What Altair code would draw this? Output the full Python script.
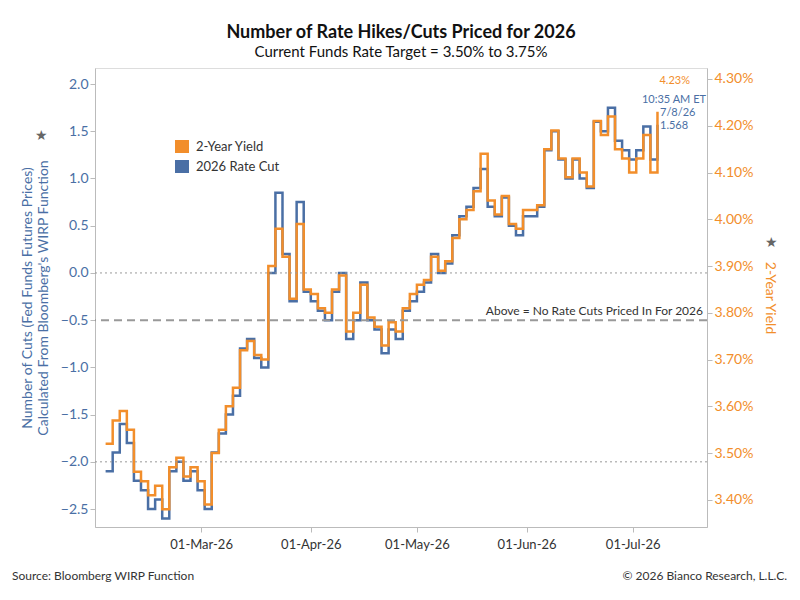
import altair as alt
import pandas as pd

dates = list(pd.date_range("2026-02-02", "2026-07-08", freq="2D").strftime("%Y-%m-%d"))
cuts = [-2.1,-1.9,-1.6,-1.8,-2.2,-2.3,-2.5,-2.4,-2.6,-2.1,-2.0,-2.2,-2.1,-2.3,
        -2.5,-1.9,-1.7,-1.5,-1.3,-0.8,-0.7,-0.9,-1.0,0.0,0.85,0.2,-0.3,0.75,-0.2,
        -0.3,-0.4,-0.5,-0.2,0.0,-0.7,-0.5,-0.1,-0.5,-0.6,-0.85,-0.6,-0.7,-0.4,-0.3,
        -0.2,-0.1,0.2,0.0,0.1,0.4,0.6,0.7,0.9,1.1,0.7,0.6,0.8,0.5,0.4,0.6,
        0.6,0.7,1.3,1.5,1.2,1.0,1.2,1.0,0.9,1.6,1.5,1.75,1.4,1.3,1.2,
        1.3,1.55,1.2,1.568]
yields = [3.52,3.57,3.59,3.55,3.46,3.44,3.41,3.43,3.38,3.47,3.49,3.45,3.47,3.44,
          3.39,3.50,3.55,3.60,3.64,3.72,3.74,3.71,3.70,3.90,3.98,3.92,3.83,3.99,3.85,
          3.84,3.81,3.80,3.85,3.88,3.76,3.80,3.86,3.79,3.77,3.73,3.78,3.76,3.81,3.84,
          3.86,3.87,3.92,3.89,3.91,3.96,4.00,4.02,4.06,4.14,4.04,4.01,4.05,3.99,3.98,4.02,
          4.02,4.03,4.15,4.19,4.13,4.09,4.13,4.10,4.07,4.21,4.18,4.22,4.15,4.13,4.10,
          4.13,4.18,4.10,4.23]
n = min(len(dates), len(cuts), len(yields))
df = pd.DataFrame({"date": dates[:n], "cut": cuts[:n], "yld": yields[:n]})

BLUE = "#4a6fa5"
ORANGE = "#f28e2b"
W, H = 612, 459
xenc = alt.X("date:T", scale=alt.Scale(domain=["2026-01-30", "2026-07-22"]),
             axis=alt.Axis(values=["2026-03-01", "2026-04-01", "2026-05-01", "2026-06-01", "2026-07-01"],
                           format="%d-%b-%y", title=None, grid=False, labelFontSize=13,
                           labelColor="#333", domainColor="#bbb", tickColor="#bbb", labelPadding=6))
lscale = alt.Scale(domain=[-2.69, 2.17], nice=False, zero=False)
rscale = alt.Scale(domain=[3.342, 4.3235], nice=False, zero=False)

base = alt.Chart(df)
blue = base.mark_line(color=BLUE, strokeWidth=2.5, interpolate="step-after").encode(
    x=xenc,
    y=alt.Y("cut:Q", scale=lscale, axis=alt.Axis(
        values=[-2.5,-2,-1.5,-1,-0.5,0,0.5,1,1.5,2], format=".1f", grid=False,
        title=["Number of Cuts (Fed Funds Futures Prices)", "Calculated From Bloomberg's WIRP Function"],
        titleColor=BLUE, labelColor=BLUE, titleFontSize=14, labelFontSize=14, titleFontWeight="normal",
        domainColor="#bbb", tickColor="#bbb", titlePadding=10)))
orange = base.mark_line(color=ORANGE, strokeWidth=2.5, interpolate="step-after").encode(
    x=xenc,
    y=alt.Y("yld:Q", scale=rscale, axis=alt.Axis(
        orient="right", values=[3.4,3.5,3.6,3.7,3.8,3.9,4.0,4.1,4.2,4.3],
        labelExpr="format(datum.value,'.2f')+'%'", grid=False, title="2-Year Yield",
        titleColor=ORANGE, labelColor=ORANGE, titleFontSize=14, labelFontSize=14,
        titleFontWeight="normal", domainColor="#bbb", tickColor="#bbb", titlePadding=10)))

guides = pd.DataFrame({"v": [0.0, -2.0, -0.5], "d": ["dot", "dot", "dash"]})
dots = alt.Chart(guides[guides.d == "dot"]).mark_rule(color="#999", strokeDash=[2, 3]).encode(
    y=alt.Y("v:Q", scale=lscale, axis=None))
dash = alt.Chart(guides[guides.d == "dash"]).mark_rule(color="#999", strokeDash=[8, 5], strokeWidth=2).encode(
    y=alt.Y("v:Q", scale=lscale, axis=None))

def txt(s, x, y, color="#333", align="left", size=12, weight="normal"):
    return alt.Chart(pd.DataFrame({"t": [s]})).mark_text(
        align=align, baseline="middle", color=color, fontSize=size, fontWeight=weight).encode(
        text="t:N", x=alt.value(x), y=alt.value(y))

def box(color, x, y):
    return alt.Chart(pd.DataFrame({"a": [0]})).mark_rect(color=color).encode(
        x=alt.value(x), x2=alt.value(x + 14), y=alt.value(y), y2=alt.value(y + 13))

annots = [
    box(ORANGE, 80, 72), box(BLUE, 80, 92),
    txt("2-Year Yield", 101, 79, size=13), txt("2026 Rate Cut", 101, 99, size=13),
    txt("Above = No Rate Cuts Priced In For 2026", 608, 243, align="right", size=12),
    txt("4.23%", 595, 13, color=ORANGE, align="right", size=11),
    txt("10:35 AM ET", 611, 32, color=BLUE, align="right", size=11),
    txt("7/8/26", 565, 45, color=BLUE, size=11),
    txt("1.568", 565, 58, color=BLUE, size=11),
    txt("Source: Bloomberg WIRP Function", -83, 508, size=12),
    txt("© 2026 Bianco Research, L.L.C.", 692, 508, align="right", size=12),
    txt("★", -60, 68, color="#666", size=14),
    txt("★", 670, 175, color="#666", size=14),
]

layer = alt.layer(blue, orange, dots, dash, *annots).resolve_scale(y="independent")
chart = layer.properties(
    width=W, height=H,
    title=alt.Title("Number of Rate Hikes/Cuts Priced for 2026",
                    subtitle="Current Funds Rate Target = 3.50% to 3.75%",
                    fontSize=18, fontWeight="bold", subtitleFontSize=15, color="#111",
                    subtitleColor="#111", anchor="middle", offset=8),
    padding={"left": 87, "top": 60, "right": 85, "bottom": 65},
    autosize=alt.AutoSizeParams(type="none"),
).configure_view(stroke=None).configure(font="Lato")

chart.save("out.html", embed_options={"renderer": "svg", "actions": False})
